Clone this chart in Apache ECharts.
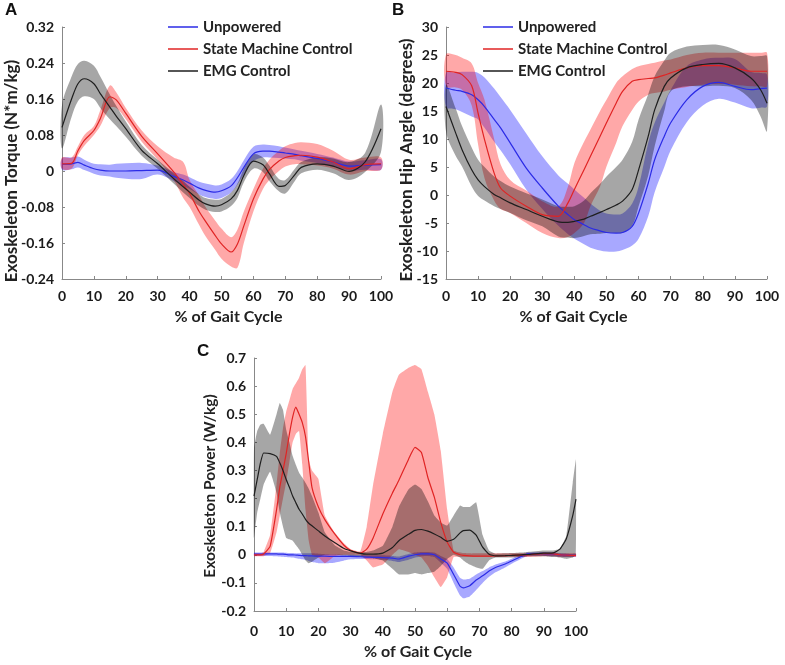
<!DOCTYPE html>
<html lang="en">
  <head>
    <meta charset="UTF-8" />
    <title>Exoskeleton torque, angle and power</title>
    <script src="https://cdn.jsdelivr.net/npm/echarts@6/dist/echarts.min.js"></script>
    <style>
      html, body { margin: 0; padding: 0; background: #fff; }
    </style>
  </head>
  <body>
    <div id="main" style="width: 785px; height: 665px"></div>
    <script>
      // ---- A: torque (N*m/kg) ----
      var xA = [0, 3, 5, 7, 10, 12, 15, 17, 20, 25, 30, 35, 38, 40, 43, 45, 48, 50, 53, 55, 57, 60, 63, 65, 68, 70, 73, 75, 80, 85, 90, 95, 100];
      var torqueUnp = [0.015, 0.016, 0.019, 0.013, 0.005, 0.002, 0.0, 0.0, 0.0, 0.001, 0.002, -0.012, -0.02, -0.027, -0.038, -0.043, -0.047, -0.044, -0.033, -0.015, 0.008, 0.038, 0.044, 0.044, 0.042, 0.04, 0.037, 0.034, 0.028, 0.02, 0.011, 0.013, 0.014];
      var torqueUnpHi = [0.028, 0.03, 0.032, 0.025, 0.016, 0.015, 0.014, 0.016, 0.017, 0.018, 0.012, -0.002, -0.008, -0.014, -0.024, -0.028, -0.032, -0.03, -0.018, 0.0, 0.024, 0.054, 0.059, 0.058, 0.055, 0.052, 0.048, 0.045, 0.038, 0.03, 0.021, 0.024, 0.026];
      var torqueUnpLo = [0.003, 0.004, 0.008, 0.002, -0.006, -0.01, -0.012, -0.015, -0.017, -0.018, -0.008, -0.022, -0.032, -0.04, -0.052, -0.058, -0.062, -0.06, -0.048, -0.03, -0.008, 0.022, 0.03, 0.03, 0.029, 0.028, 0.026, 0.023, 0.018, 0.01, 0.001, 0.003, 0.003];
      var torqueSmc = [0.016, 0.017, 0.045, 0.068, 0.09, 0.116, 0.165, 0.158, 0.128, 0.077, 0.038, -0.002, -0.03, -0.05, -0.09, -0.112, -0.143, -0.162, -0.18, -0.162, -0.122, -0.062, -0.018, 0.003, 0.022, 0.03, 0.034, 0.035, 0.031, 0.02, 0.005, 0.014, 0.016];
      var torqueSmcHi = [0.03, 0.03, 0.055, 0.08, 0.1, 0.135, 0.19, 0.175, 0.14, 0.09, 0.055, 0.03, 0.02, -0.02, -0.055, -0.08, -0.11, -0.128, -0.147, -0.13, -0.09, -0.04, 0.005, 0.025, 0.045, 0.055, 0.062, 0.064, 0.06, 0.045, 0.025, 0.03, 0.03];
      var torqueSmcLo = [0.005, 0.005, 0.035, 0.056, 0.08, 0.1, 0.14, 0.14, 0.115, 0.065, 0.025, -0.02, -0.06, -0.08, -0.12, -0.145, -0.175, -0.195, -0.212, -0.215, -0.16, -0.09, -0.04, -0.02, 0.0, 0.01, 0.015, 0.015, 0.012, 0.005, -0.008, 0.0, 0.003];
      var torqueEmg = [0.097, 0.16, 0.194, 0.205, 0.194, 0.172, 0.142, 0.122, 0.094, 0.046, 0.016, -0.017, -0.035, -0.047, -0.065, -0.073, -0.078, -0.075, -0.062, -0.043, -0.01, 0.022, 0.014, -0.006, -0.034, -0.032, -0.008, 0.008, 0.016, 0.011, -0.001, 0.02, 0.094];
      var torqueEmgHi = [0.146, 0.21, 0.238, 0.245, 0.234, 0.21, 0.17, 0.145, 0.11, 0.058, 0.025, -0.005, -0.022, -0.035, -0.052, -0.06, -0.064, -0.062, -0.048, -0.028, 0.005, 0.037, 0.03, 0.012, -0.018, -0.02, 0.005, 0.02, 0.03, 0.028, 0.02, 0.04, 0.148];
      var torqueEmgLo = [0.05, 0.12, 0.155, 0.166, 0.16, 0.14, 0.115, 0.1, 0.076, 0.034, 0.005, -0.028, -0.048, -0.06, -0.078, -0.086, -0.091, -0.09, -0.078, -0.06, -0.025, 0.005, -0.002, -0.022, -0.045, -0.05, -0.022, -0.005, 0.003, -0.005, -0.02, -0.002, 0.042];

      // ---- B: hip angle (degrees) ----
      var xB = [0, 3, 5, 8, 10, 12, 15, 17, 20, 25, 30, 35, 38, 40, 43, 45, 48, 50, 53, 55, 58, 60, 63, 65, 68, 70, 75, 80, 85, 90, 95, 98, 100];
      var angleUnp = [19.1, 18.7, 18.5, 17.9, 17.0, 15.8, 13.5, 12.0, 9.3, 4.8, 1.25, -2.0, -3.5, -4.4, -5.3, -5.9, -6.4, -6.7, -6.8, -6.7, -5.6, -3.2, 2.1, 6.3, 10.5, 12.9, 17.0, 19.4, 20.1, 19.4, 18.8, 19.0, 19.1];
      var angleUnpHi = [21.8, 21.9, 22.0, 22.0, 21.8, 21.0, 19.0, 17.5, 15.2, 11.0, 6.9, 3.5, 2.0, 1.0, -0.5, -1.5, -2.8, -3.3, -3.5, -3.3, -1.5, 1.5, 9.3, 12.9, 16.5, 18.8, 23.0, 24.2, 24.5, 24.3, 22.0, 21.8, 21.5];
      var angleUnpLo = [15.7, 15.3, 14.8, 14.0, 13.5, 12.0, 9.5, 8.0, 5.5, 1.0, -2.5, -5.5, -7.0, -7.8, -8.8, -9.4, -9.9, -10.1, -10.1, -9.8, -9.0, -7.8, -3.8, 0.5, 5.0, 8.0, 13.0, 16.0, 17.2, 16.5, 15.5, 15.6, 15.8];
      var angleSmc = [22.1, 21.9, 21.5, 19.5, 14.6, 9.9, 3.9, 1.25, -0.2, -2.0, -3.5, -3.8, -1.4, 1.0, 4.5, 6.9, 10.5, 12.9, 16.4, 18.5, 20.3, 20.6, 20.8, 20.9, 21.4, 21.8, 22.7, 23.1, 23.1, 22.7, 22.1, 22.1, 22.1];
      var angleSmcHi = [25.1, 25.0, 24.5, 23.5, 20.0, 17.0, 10.0, 5.5, 2.7, 0.8, -1.1, -2.0, 1.5, 5.7, 9.5, 11.7, 15.0, 17.0, 20.0, 21.2, 22.5, 23.0, 23.4, 23.6, 24.0, 24.2, 25.0, 25.4, 25.4, 25.4, 25.4, 25.4, 25.4];
      var angleSmcLo = [19.4, 19.2, 18.8, 16.0, 9.0, 3.0, -1.0, -2.5, -3.2, -5.0, -6.8, -7.7, -7.5, -6.8, -5.0, -2.0, 1.5, 5.1, 9.3, 12.3, 15.2, 16.7, 17.9, 18.2, 18.5, 18.8, 19.3, 19.7, 19.8, 19.7, 19.4, 19.4, 19.4];
      var angleEmg = [15.8, 11.1, 8.1, 4.5, 2.7, 1.5, 0.1, -0.5, -1.4, -2.6, -3.8, -4.8, -4.9, -4.7, -4.3, -3.8, -3.1, -2.6, -1.8, -1.1, 1.0, 4.5, 10.5, 15.2, 19.4, 20.9, 22.7, 23.3, 23.5, 22.7, 20.9, 18.8, 16.4];
      var angleEmgHi = [19.7, 15.5, 12.3, 8.5, 6.3, 5.0, 3.3, 2.5, 1.5, 0.3, -0.8, -2.0, -2.1, -2.0, -1.0, 0.3, 2.0, 3.3, 5.0, 6.3, 9.5, 13.5, 18.0, 21.2, 24.0, 25.4, 26.5, 26.8, 26.8, 26.0, 24.8, 24.8, 24.8];
      var angleEmgLo = [11.4, 7.0, 5.1, 1.5, -0.2, -1.0, -2.0, -2.5, -3.2, -4.5, -5.6, -7.4, -7.6, -7.7, -7.3, -7.0, -6.9, -6.8, -6.8, -6.8, -5.5, -2.0, 3.5, 8.7, 15.0, 18.5, 19.4, 19.4, 19.5, 19.1, 17.0, 14.0, 11.4];

      // ---- C: power (W/kg) ----
      var xC = [0, 1, 2, 3, 5, 7, 8, 9, 10, 11, 12, 13, 14, 15, 16, 17, 18, 20, 22, 25, 28, 30, 33, 35, 37, 40, 43, 45, 48, 50, 52, 54, 56, 58, 60, 62, 64, 65, 67, 69, 71, 73, 75, 78, 80, 83, 85, 90, 93, 95, 97, 99, 100];
      var powerUnp = [0.002, 0.002, 0.002, 0.003, 0.003, 0.003, 0.002, 0.002, 0.001, 0.0, 0.0, -0.001, -0.002, -0.003, -0.003, -0.004, -0.004, -0.005, -0.005, -0.006, -0.006, -0.006, -0.007, -0.008, -0.009, -0.01, -0.012, -0.015, -0.005, 0.0, 0.003, 0.003, 0.0, -0.015, -0.03, -0.07, -0.112, -0.118, -0.11, -0.09, -0.075, -0.058, -0.045, -0.033, -0.022, -0.006, 0.003, 0.004, 0.002, 0.0, -0.001, -0.002, -0.002];
      var powerUnpHi = [0.008, 0.008, 0.008, 0.008, 0.008, 0.008, 0.008, 0.008, 0.007, 0.006, 0.006, 0.005, 0.005, 0.005, 0.005, 0.005, 0.005, 0.004, 0.003, 0.002, 0.0, 0.0, -0.001, -0.002, -0.002, -0.002, -0.004, -0.006, 0.003, 0.008, 0.01, 0.01, 0.008, -0.004, -0.015, -0.045, -0.082, -0.088, -0.085, -0.07, -0.058, -0.045, -0.035, -0.024, -0.014, 0.0, 0.008, 0.01, 0.008, 0.005, 0.004, 0.003, 0.003];
      var powerUnpLo = [-0.004, -0.004, -0.004, -0.004, -0.004, -0.005, -0.006, -0.007, -0.008, -0.009, -0.01, -0.012, -0.014, -0.016, -0.018, -0.022, -0.026, -0.03, -0.03, -0.028, -0.02, -0.016, -0.015, -0.015, -0.016, -0.018, -0.022, -0.026, -0.018, -0.01, -0.005, -0.004, -0.008, -0.028, -0.05, -0.1, -0.145, -0.155, -0.148, -0.125, -0.1, -0.078, -0.062, -0.045, -0.032, -0.014, -0.004, -0.004, -0.005, -0.007, -0.008, -0.008, -0.008];
      var powerSmc = [0, 0, 0, 0.003, 0.03, 0.16, 0.24, 0.3, 0.36, 0.43, 0.49, 0.525, 0.5, 0.47, 0.42, 0.33, 0.24, 0.17, 0.125, 0.075, 0.033, 0.016, 0.005, 0.02, 0.06, 0.145, 0.22, 0.265, 0.34, 0.382, 0.364, 0.275, 0.205, 0.115, 0.045, 0.009, 0.0, -0.002, -0.004, -0.005, -0.005, -0.005, -0.004, -0.003, -0.002, -0.001, 0.0, 0.004, 0.003, 0.0, -0.001, -0.002, -0.002];
      var powerSmcHi = [0.005, 0.005, 0.005, 0.01, 0.07, 0.25, 0.36, 0.45, 0.51, 0.55, 0.59, 0.61, 0.63, 0.66, 0.675, 0.34, 0.3, 0.27, 0.14, 0.08, 0.04, 0.02, 0.012, 0.1, 0.25, 0.43, 0.58, 0.64, 0.665, 0.675, 0.66, 0.58, 0.5, 0.37, 0.16, 0.015, 0.008, 0.006, 0.005, 0.005, 0.005, 0.005, 0.005, 0.005, 0.005, 0.005, 0.005, 0.008, 0.008, 0.005, 0.005, 0.005, 0.005];
      var powerSmcLo = [-0.005, -0.005, -0.005, -0.005, 0.005, 0.08, 0.14, 0.2, 0.26, 0.33, 0.4, 0.43, 0.44, 0.32, 0.16, 0.05, 0.0, -0.01, -0.03, -0.005, 0.0, 0.0, 0.0, -0.02, -0.045, -0.035, 0.0, 0.02, 0.01, 0.0, -0.01, -0.04, -0.08, -0.115, -0.08, -0.008, -0.008, -0.008, -0.008, -0.008, -0.008, -0.008, -0.008, -0.008, -0.008, -0.008, -0.008, -0.005, -0.005, -0.008, -0.008, -0.008, -0.008];
      var powerEmg = [0.209, 0.268, 0.327, 0.362, 0.36, 0.35, 0.327, 0.3, 0.268, 0.24, 0.209, 0.185, 0.162, 0.145, 0.126, 0.112, 0.103, 0.085, 0.067, 0.044, 0.022, 0.014, 0.005, 0.002, 0.002, 0.006, 0.026, 0.05, 0.073, 0.087, 0.09, 0.084, 0.074, 0.062, 0.048, 0.055, 0.078, 0.086, 0.088, 0.07, 0.027, 0.002, -0.004, -0.003, -0.002, 0.0, 0.001, 0.006, 0.007, 0.02, 0.057, 0.14, 0.198];
      var powerEmgHi = [0.38, 0.44, 0.463, 0.466, 0.427, 0.5, 0.54, 0.516, 0.445, 0.4, 0.351, 0.32, 0.292, 0.275, 0.256, 0.235, 0.209, 0.15, 0.08, 0.035, 0.015, 0.01, 0.01, 0.01, 0.015, 0.032, 0.1, 0.17, 0.233, 0.25, 0.234, 0.19, 0.14, 0.115, 0.104, 0.14, 0.175, 0.17, 0.17, 0.187, 0.07, 0.015, 0.004, 0.005, 0.006, 0.008, 0.01, 0.015, 0.015, 0.021, 0.068, 0.257, 0.34];
      var powerEmgLo = [0.06, 0.15, 0.2, 0.25, 0.295, 0.22, 0.15, 0.1, 0.06, 0.055, 0.05, 0.035, 0.02, 0.0, -0.02, -0.03, -0.025, -0.01, 0.0, 0.0, -0.003, -0.005, -0.008, -0.01, -0.012, -0.02, -0.05, -0.07, -0.07, -0.065, -0.07, -0.065, -0.06, -0.04, -0.015, 0.0, -0.01, -0.02, -0.035, -0.045, -0.05, -0.02, -0.01, -0.01, -0.01, -0.008, -0.005, -0.005, -0.008, -0.01, -0.015, -0.01, 0.0];

      var names = ['Unpowered', 'State Machine Control', 'EMG Control'];
      var lineColors = ['#2b2be6', '#e02424', '#1e1e1e'];
      var bandColors = ['rgba(0,0,255,0.34)', 'rgba(255,0,0,0.34)', 'rgba(0,0,0,0.35)'];
      var font = 'Lato';

      function pairs(x, y) {
        return x.map(function (v, i) { return [v, y[i]]; });
      }

      // shaded band between lo and hi, drawn as one polygon through the axes
      function band(x, lo, hi, color, idx, smooth) {
        return {
          type: 'custom',
          xAxisIndex: idx,
          yAxisIndex: idx,
          silent: true,
          z: 1,
          data: [[x[0], lo[0]]],
          renderItem: function (params, api) {
            var pts = [];
            for (var i = 0; i < x.length; i++) pts.push(api.coord([x[i], hi[i]]));
            for (var j = x.length - 1; j >= 0; j--) pts.push(api.coord([x[j], lo[j]]));
            return {
              type: 'polygon',
              shape: { points: pts, smooth: smooth },
              style: { fill: color }
            };
          }
        };
      }

      function meanLine(k, x, y, idx, smooth) {
        return {
          type: 'line',
          name: names[k],
          xAxisIndex: idx,
          yAxisIndex: idx,
          data: pairs(x, y),
          showSymbol: false,
          smooth: smooth,
          silent: true,
          z: 3,
          lineStyle: { width: 1.2, color: lineColors[k] },
          itemStyle: { color: lineColors[k] }
        };
      }

      function xAxis(idx, margin, gap, pad) {
        return {
          type: 'value', gridIndex: idx, min: 0, max: 100, interval: 10,
          name: '% of Gait Cycle', nameLocation: 'middle', nameGap: gap,
          nameTextStyle: { fontFamily: font, fontSize: 16, fontWeight: 'bold', color: '#222', padding: pad },
          axisLine: { onZero: false, lineStyle: { color: '#888', width: 1 } },
          axisTick: { inside: true, length: 3, lineStyle: { color: '#888' } },
          axisLabel: { margin: margin, fontFamily: font, fontSize: 14, fontWeight: 'bold', color: '#1a1a1a' },
          splitLine: { show: false }
        };
      }

      function yAxis(idx, min, max, interval, dec) {
        return {
          type: 'value', gridIndex: idx, min: min, max: max, interval: interval,
          axisLine: { show: true, lineStyle: { color: '#888', width: 1 } },
          axisTick: { show: true, inside: true, length: 3, lineStyle: { color: '#888' } },
          axisLabel: {
            margin: 8, fontFamily: font, fontSize: 14, fontWeight: 'bold', color: '#1a1a1a',
            formatter: function (v) { return String(+v.toFixed(dec)); }
          },
          splitLine: { show: false }
        };
      }

      // rotated y-axis titles
      function yTitle(text, x, y, size) {
        return {
          type: 'text', x: x, y: y, rotation: Math.PI / 2,
          style: {
            text: text, align: 'center', verticalAlign: 'middle',
            font: 'bold ' + size + 'px ' + font, fill: '#222'
          }
        };
      }

      function legend(left) {
        return {
          data: names, left: left, top: 14, orient: 'vertical',
          icon: 'rect', itemWidth: 30, itemHeight: 1.5, itemGap: 6,
          selectedMode: false,
          textStyle: { fontFamily: font, fontSize: 15, fontWeight: 'bold', color: '#222', lineHeight: 16 }
        };
      }

      var series = [];
      var sets = [
        [xA, [torqueUnpLo, torqueSmcLo, torqueEmgLo], [torqueUnpHi, torqueSmcHi, torqueEmgHi], [torqueUnp, torqueSmc, torqueEmg], 0.35, 0.3],
        [xB, [angleUnpLo, angleSmcLo, angleEmgLo], [angleUnpHi, angleSmcHi, angleEmgHi], [angleUnp, angleSmc, angleEmg], 0.35, 0.3],
        [xC, [powerUnpLo, powerSmcLo, powerEmgLo], [powerUnpHi, powerSmcHi, powerEmgHi], [powerUnp, powerSmc, powerEmg], 0.1, 0.15]
      ];
      sets.forEach(function (s, idx) {
        for (var k = 0; k < 3; k++) series.push(band(s[0], s[1][k], s[2][k], bandColors[k], idx, s[4]));
        for (var k2 = 0; k2 < 3; k2++) series.push(meanLine(k2, s[0], s[3][k2], idx, s[5]));
      });

      var chart = echarts.init(document.getElementById('main'));
      chart.setOption({
        animation: false,
        backgroundColor: '#fff',
        grid: [
          { left: 62, top: 27, width: 319, height: 252 },
          { left: 446, top: 27, width: 321, height: 252 },
          { left: 254, top: 358, width: 322, height: 253 }
        ],
        xAxis: [xAxis(0, 10, 30, [0, 0, 0, 14]), xAxis(1, 10, 30, [0, 66, 0, 0]), xAxis(2, 13, 33, [0, 0, 0, 6])],
        yAxis: [
          yAxis(0, -0.24, 0.32, 0.08, 2),
          yAxis(1, -15, 30, 5, 0),
          yAxis(2, -0.2, 0.7, 0.1, 1)
        ],
        legend: [legend(163), legend(478)],
        graphic: [
          { type: 'text', left: 5, top: 2, style: { text: 'A', font: 'bold 17px "Liberation Sans"', fill: '#111' } },
          { type: 'text', left: 392, top: 2, style: { text: 'B', font: 'bold 17px "Liberation Sans"', fill: '#111' } },
          { type: 'text', left: 197, top: 343, style: { text: 'C', font: 'bold 17px "Liberation Sans"', fill: '#111' } },
          yTitle('Exoskeleton Torque (N*m/kg)', 12, 171, 17),
          yTitle('Exoskeleton Hip Angle (degrees)', 407, 160, 17),
          yTitle('Exoskeleton Power (W/kg)', 210, 486, 15.5)
        ],
        series: series
      });
    </script>
  </body>
</html>
